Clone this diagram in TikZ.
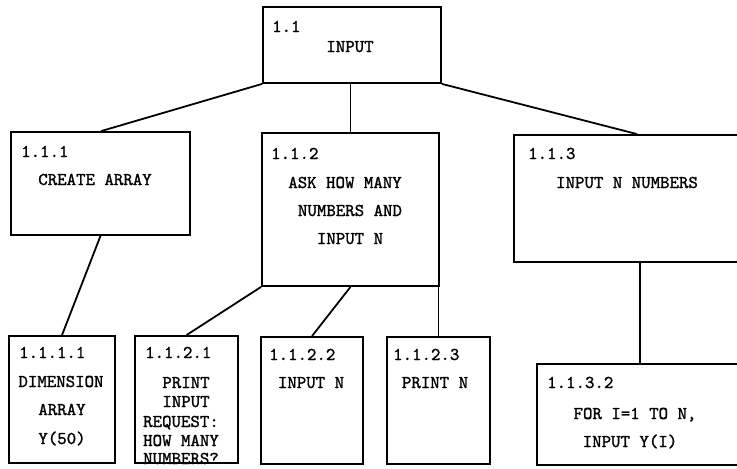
\documentclass[tikz,border=0pt]{standalone}
\usepackage{fontspec}
\usetikzlibrary{calc}
\newfontfamily\twfam[FakeBold=1.3]{lmmono10-regular.otf}
\newcommand\twfont{\twfam\fontsize{18}{20}\selectfont}
\begin{document}
\begin{tikzpicture}[x=1pt,y=-1pt,
  box/.style={draw, line width=1.8pt, rectangle, inner sep=0pt, anchor=center},
  lbl/.style={font=\twfont, inner sep=0pt, anchor=base west},
  txt/.style={font=\twfont, inner sep=0pt, anchor=base},
  link/.style={line width=1.8pt}]
\useasboundingbox (0,0) rectangle (737,469);
\clip (0,0) rectangle (737,469);

% boxes
\node[box, minimum width=178pt, minimum height=76pt]  (A) at (352,45) {};
\node[box, minimum width=179pt, minimum height=103pt] (B) at (100.5,183.5) {};
\node[box, minimum width=177pt, minimum height=153pt] (C) at (350.5,209.5) {};
\node[box, minimum width=246pt, minimum height=127pt] (D) at (637,198.5) {};
\node[box, minimum width=106pt, minimum height=127pt] (E) at (62,399.5) {};
\node[box, minimum width=103pt, minimum height=127pt] (F) at (186.5,399.5) {};
\node[box, minimum width=102pt, minimum height=127pt] (G) at (312,400.5) {};
\node[box, minimum width=103pt, minimum height=127pt] (H) at (438.5,400.5) {};
\node[box, minimum width=223pt, minimum height=101pt] (I) at (648.5,414.5) {};

% connectors
\coordinate (Btop) at ($(B.north west)+(91,0)$);
\coordinate (Dtop) at ($(D.north west)+(124,0)$);
\coordinate (Dbot) at ($(D.south west)+(127,0)$);
\draw[link] (A.south west) -- (Btop);
\draw[link] (C.north |- A.south) -- (C.north);
\draw[link] (A.south east) -- (Dtop);
\draw[link] (B.south) -- (E.north);
\draw[link] (C.south west) -- (F.north);
\draw[link] (C.south) -- (G.north);
\draw[link] (H.north |- C.south) -- (H.north);
\draw[link] (Dbot) -- (Dbot |- I.north);

% texts
\node[lbl] (tA0) at (272,32) {1.1};
\node[txt] (tA1) at (350,52) {INPUT};

\node[lbl] (tB0) at (21,157) {1.1.1};
\node[txt] (tB1) at (95,185) {CREATE ARRAY};

\node[lbl] (tC0) at (271,159) {1.1.2};
\node[txt] (tC1) at (345,188) {ASK HOW MANY};
\node[txt] (tC2) at (350,216) {NUMBERS AND};
\node[txt] (tC3) at (350,244) {INPUT N};

\node[lbl] (tD0) at (528,159) {1.1.3};
\node[txt] (tD1) at (627,188) {INPUT N NUMBERS};

\node[lbl] (tE0) at (19,358) {1.1.1.1};
\node[txt] (tE1) at (61,387) {DIMENSION};
\node[txt] (tE2) at (62,415) {ARRAY};
\node[txt] (tE3) at (62,444) {Y(50)};

\node[lbl] (tF0) at (145,358) {1.1.2.1};
\node[txt] (tF1) at (186,388) {PRINT};
\node[txt] (tF2) at (186,407) {INPUT};
\node[txt] (tF3) at (181,427) {REQUEST:};
\node[txt] (tF4) at (181,446) {HOW MANY};
\node[txt] (tF5) at (181,464) {NUMBERS?};

\node[lbl] (tG0) at (269,360) {1.1.2.2};
\node[txt] (tG1) at (311,388) {INPUT N};

\node[lbl] (tH0) at (393,360) {1.1.2.3};
\node[txt] (tH1) at (435,388) {PRINT N};

\node[lbl] (tI0) at (547,388) {1.1.3.2};
\node[txt] (tI1) at (635,419) {FOR I=1 TO N,};
\node[txt] (tI2) at (630,447) {INPUT Y(I)};
\end{tikzpicture}
\end{document}
